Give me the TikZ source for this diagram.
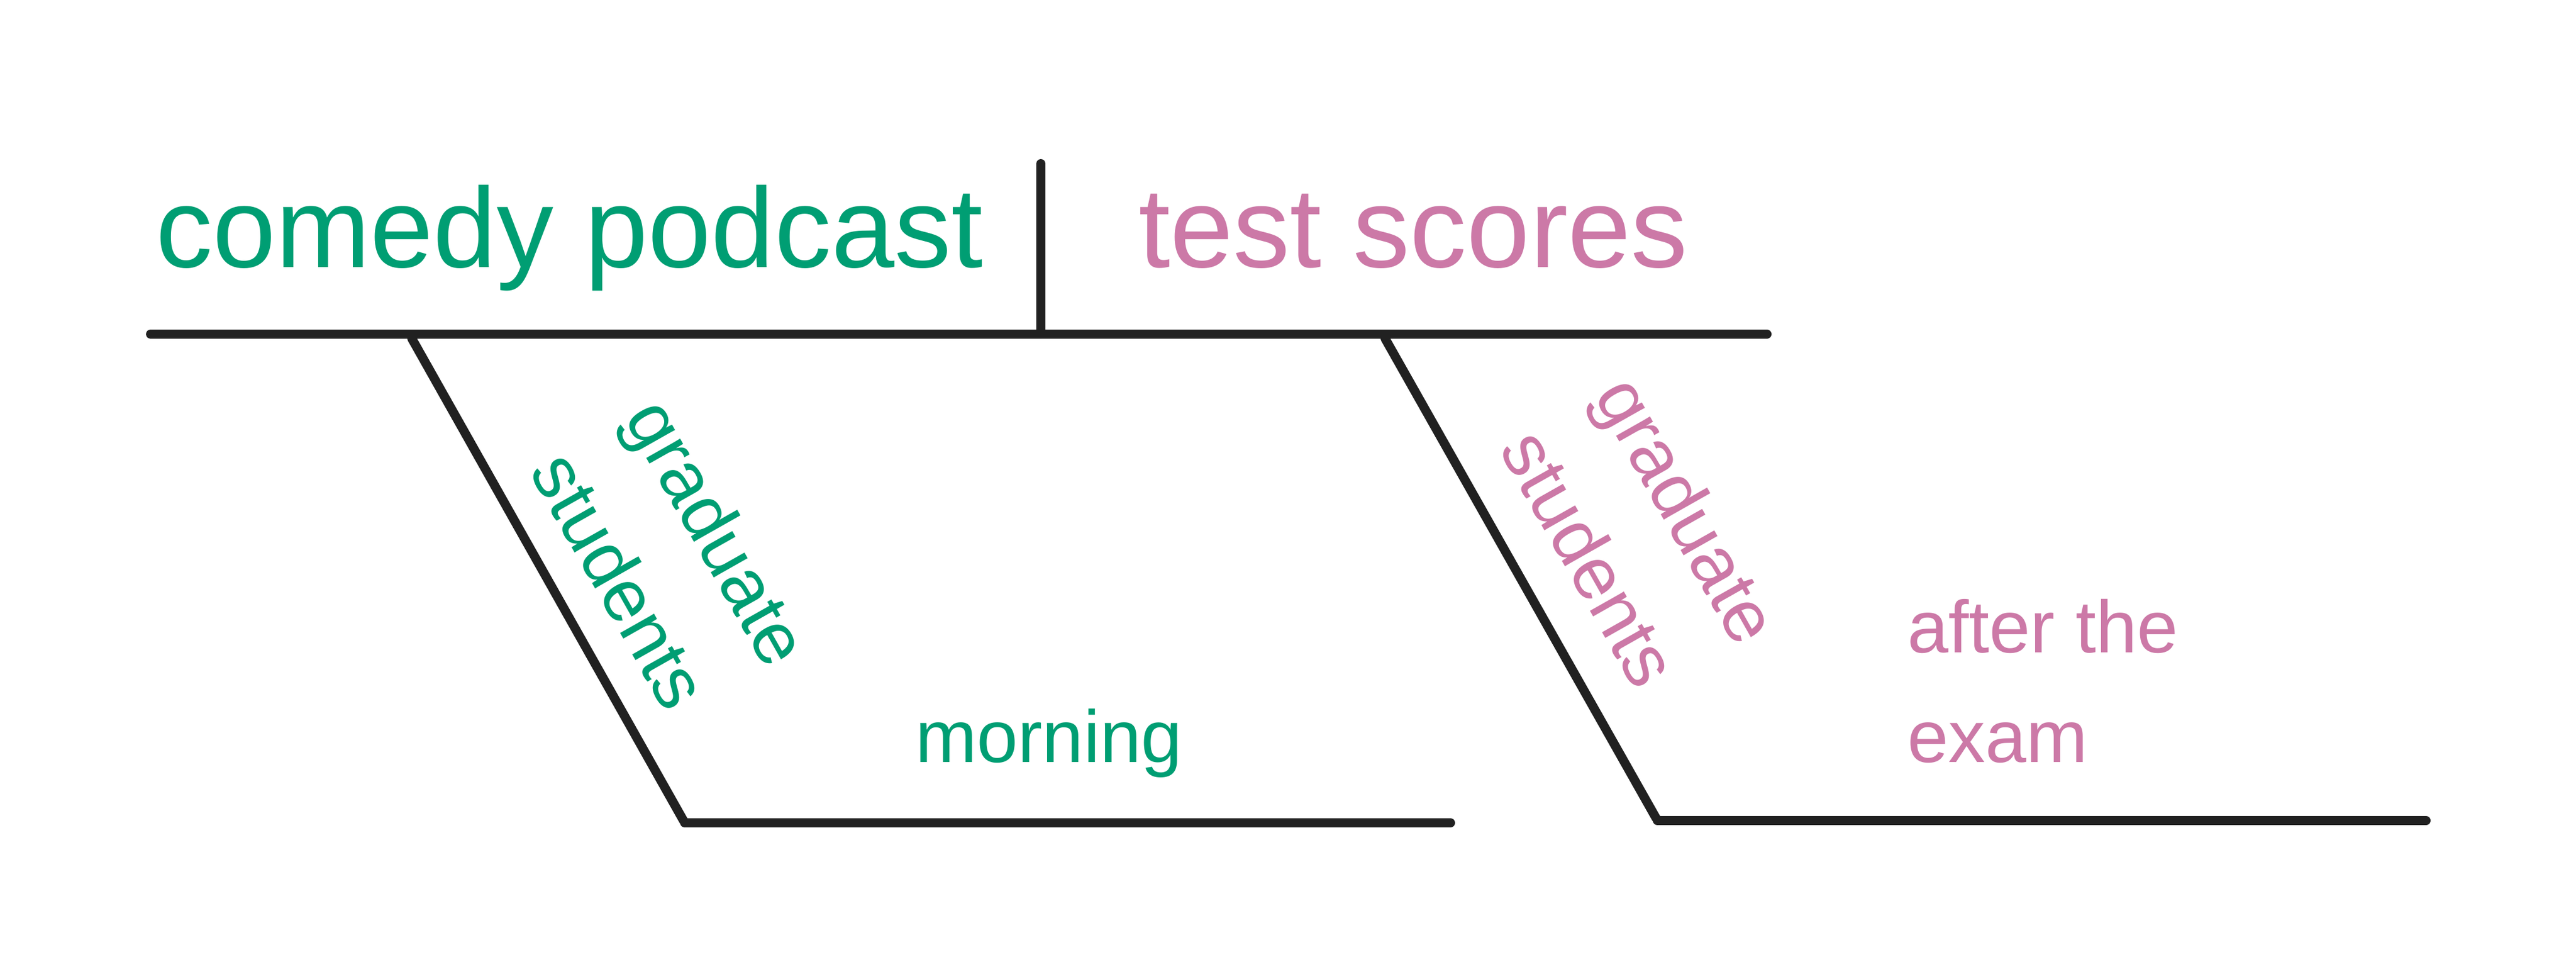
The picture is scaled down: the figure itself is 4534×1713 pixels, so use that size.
\documentclass[tikz,border=0pt]{standalone}
\usepackage{fontspec}
\setmainfont{Liberation Sans}
\definecolor{grn}{HTML}{009E73}
\definecolor{pnk}{HTML}{CC79A7}
\definecolor{ink}{HTML}{212121}
\begin{document}
\begin{tikzpicture}[x=0.1pt,y=-0.1pt,
  rule/.style={draw=ink,line width=1.6pt,line cap=round,line join=round},
  big/.style={inner sep=0pt,anchor=base west,font=\fontsize{20}{24}\selectfont},
  small/.style={inner sep=0pt,anchor=base west,font=\fontsize{13}{19.2}\selectfont},
  slant/.style={inner sep=0pt,anchor=center,align=left,rotate=-60.5,font=\fontsize{13}{19.2}\selectfont}]
\useasboundingbox[fill=white] (0,0) rectangle (4534,1713);
% coordinates
\coordinate (mL) at (265,588);
\coordinate (mR) at (3110,588);
\coordinate (dT) at (1832,288);
\coordinate (dB) at (1832,588);
\coordinate (s1T) at (725,596);
\coordinate (s1B) at (1203,1444);
\coordinate (b1L) at (1205,1448);
\coordinate (b1R) at (2553,1448);
\coordinate (s2T) at (2438,596);
\coordinate (s2B) at (2915,1440);
\coordinate (b2L) at (2917,1444);
\coordinate (b2R) at (4270,1444);
% lines
\draw[rule] (mL) -- (mR);
\draw[rule] (dT) -- (dB);
\draw[rule] (s1T) -- (s1B);
\draw[rule] (b1L) -- (b1R);
\draw[rule] (s2T) -- (s2B);
\draw[rule] (b2L) -- (b2R);
% texts
\node[big,text=grn] (subj) at (272,470) {comedy podcast};
\node[big,text=pnk] (pred) at (2002,470) {test scores};
\node[slant,text=grn] (mod1) at (1181,983) {graduate\\students};
\node[slant,text=pnk] (mod2) at (2888,944) {graduate\\students};
\node[small,text=grn] (adv1) at (1609,1341) {morning};
\node[small,text=pnk] (adv2a) at (3355,1148) {after the};
\node[small,text=pnk] (adv2b) at (3355,1341) {exam};
\end{tikzpicture}
\end{document}
